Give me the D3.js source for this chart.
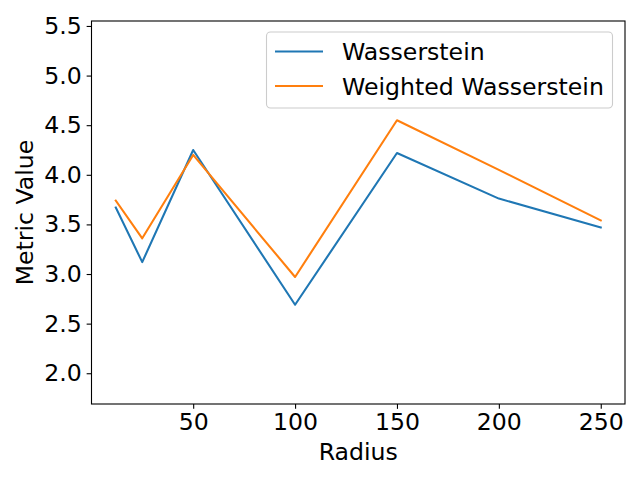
<!DOCTYPE html>
<html>
<head>
<meta charset="utf-8">
<script src="https://cdn.jsdelivr.net/npm/d3@7"></script>
<style>
  body { margin: 0; background: #fff; }
  svg { display: block; }
  text { font-family: "DejaVu Sans", sans-serif; fill: #000; }
</style>
</head>
<body>
<svg id="chart" width="640" height="480"></svg>
<script>
const radius = [12, 25, 50, 100, 150, 200, 250];
const wasserstein = [3.67, 3.12, 4.25, 2.69, 4.22, 3.76, 3.47];
const weightedWasserstein = [3.74, 3.36, 4.20, 2.97, 4.55, 4.05, 3.54];
const seriesNames = ["Wasserstein", "Weighted Wasserstein"];
const seriesColors = ["#1f77b4", "#ff7f0e"];
const xTicks = [50, 100, 150, 200, 250];
const yTicks = [2.0, 2.5, 3.0, 3.5, 4.0, 4.5, 5.0, 5.5];
const xLabel = "Radius";
const yLabel = "Metric Value";

const svg = d3.select("#chart");
const margin = { left: 91.5, right: 15, top: 21, bottom: 76 };
const W = 640, H = 480;
const fs = 23.6;

const xMin = d3.min(radius), xMax = d3.max(radius);
const xPad = (xMax - xMin) * 0.05;
const x = d3.scaleLinear().domain([xMin - xPad, xMax + xPad]).range([margin.left, W - margin.right]);
const allY = wasserstein.concat(weightedWasserstein);
const y = d3.scaleLinear().domain([d3.min(allY) - 1, d3.max(allY) + 1]).range([H - margin.bottom, margin.top]);

const series = [wasserstein, weightedWasserstein];

// lines
const line = d3.line().x((d, i) => x(radius[i])).y(d => y(d));
const plot = svg.append("g");
plot.append("defs").append("clipPath").attr("id", "clip")
  .append("rect").attr("x", margin.left).attr("y", margin.top)
  .attr("width", W - margin.right - margin.left).attr("height", H - margin.bottom - margin.top);
series.forEach((s, k) => {
  plot.append("path").datum(s)
    .attr("d", line)
    .attr("fill", "none")
    .attr("stroke", seriesColors[k])
    .attr("stroke-width", 2.08)
    .attr("stroke-linejoin", "round")
    .attr("stroke-linecap", "square")
    .attr("clip-path", "url(#clip)");
});

// axes
const xAxis = d3.axisBottom(x).tickValues(xTicks).tickSize(4.86).tickPadding(4.86).tickFormat(d3.format("d"));
const yAxis = d3.axisLeft(y).tickValues(yTicks).tickSize(4.86).tickPadding(4.86).tickFormat(d3.format(".1f"));

const gx = svg.append("g").attr("transform", `translate(0,${H - margin.bottom})`).call(xAxis);
const gy = svg.append("g").attr("transform", `translate(${margin.left},0)`).call(yAxis);
[gx, gy].forEach(g => {
  g.select(".domain").remove();
  g.selectAll(".tick line").attr("stroke", "#000").attr("stroke-width", 1.1);
  g.selectAll(".tick text").attr("font-size", fs).attr("font-family", "DejaVu Sans").attr("fill", "#000");
});

// frame
svg.append("rect")
  .attr("x", margin.left).attr("y", margin.top)
  .attr("width", W - margin.right - margin.left).attr("height", H - margin.bottom - margin.top)
  .attr("fill", "none").attr("stroke", "#000").attr("stroke-width", 1.1);

// axis labels
svg.append("text").attr("x", (margin.left + W - margin.right) / 2).attr("y", 460)
  .attr("text-anchor", "middle").attr("font-size", fs).text(xLabel);
svg.append("text").attr("transform", `translate(33,${(margin.top + H - margin.bottom) / 2}) rotate(-90)`)
  .attr("text-anchor", "middle").attr("font-size", fs).text(yLabel);

// legend
const lg = svg.append("g");
lg.append("rect").attr("x", 266.5).attr("y", 32).attr("width", 346).attr("height", 76)
  .attr("rx", 4).attr("fill", "#fff").attr("fill-opacity", 0.8)
  .attr("stroke", "#cccccc").attr("stroke-width", 1.1);
seriesNames.forEach((name, k) => {
  const cy = 51.5 + k * 34.5;
  lg.append("line").attr("x1", 275).attr("x2", 323).attr("y1", cy).attr("y2", cy)
    .attr("stroke", seriesColors[k]).attr("stroke-width", 2.08);
  lg.append("text").attr("x", 342).attr("y", cy).attr("dy", "0.37em")
    .attr("font-size", fs).text(name);
});
</script>
</body>
</html>
